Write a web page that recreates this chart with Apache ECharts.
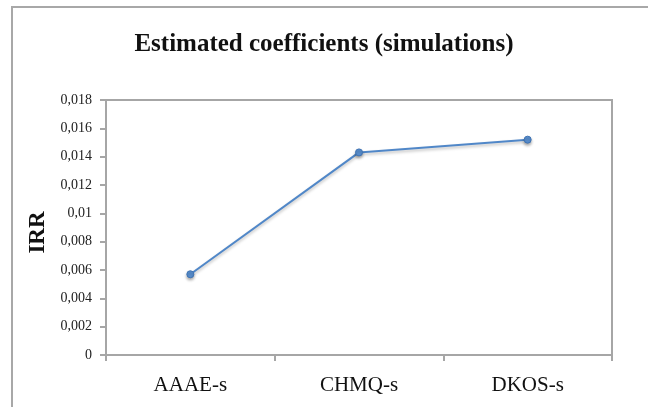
<!DOCTYPE html>
<html>
<head>
<meta charset="utf-8">
<script src="https://cdn.jsdelivr.net/npm/echarts@6/dist/echarts.min.js"></script>
<style>html,body{margin:0;padding:0;background:#fff;}#c{width:648px;height:407px;}</style>
</head>
<body>
<div id="c"></div>
<script>
var categories = ['AAAE-s', 'CHMQ-s', 'DKOS-s'];
var irrValues = [0.0057, 0.0143, 0.0152];
var titleText = 'Estimated coefficients (simulations)';
var yAxisName = 'IRR';

var chart = echarts.init(document.getElementById('c'));
var axisGray = '#a6a6a6';
chart.setOption({
  animation: false,
  backgroundColor: '#fff',
  graphic: [{
    type: 'rect', shape: {x: 12, y: 7, width: 700, height: 500},
    style: {fill: 'none', stroke: '#a8a8a8', lineWidth: 2}, silent: true, z: -1
  }],
  title: {
    text: titleText, left: 'center', top: 27,
    textStyle: {fontFamily: 'Liberation Serif', fontWeight: 'bold', fontSize: 25, color: '#111'}
  },
  grid: {left: 106, top: 100, right: 36, bottom: 52, show: true, borderColor: axisGray, borderWidth: 2},
  xAxis: {
    type: 'category', data: categories, boundaryGap: true,
    axisLine: {lineStyle: {color: axisGray, width: 2}},
    axisTick: {show: true, inside: false, length: 6, lineStyle: {color: axisGray, width: 2}},
    axisLabel: {fontFamily: 'Liberation Serif', fontSize: 21, color: '#111', margin: 20}
  },
  yAxis: {
    type: 'value', min: 0, max: 0.018, interval: 0.002,
    name: yAxisName, nameLocation: 'middle', nameGap: 56, nameRotate: 90,
    nameTextStyle: {fontFamily: 'Liberation Serif', fontWeight: 'bold', fontSize: 23, color: '#111', padding: [0, 10, 0, 0]},
    axisLine: {show: true, lineStyle: {color: axisGray, width: 2}},
    axisTick: {show: true, length: 6, lineStyle: {color: axisGray, width: 2}},
    splitLine: {show: false},
    axisLabel: {
      fontFamily: 'Liberation Serif', fontSize: 14, color: '#222', margin: 14,
      formatter: function (v) { return String(parseFloat(v.toFixed(4))).replace('.', ','); }
    }
  },
  series: [{
    type: 'line', data: irrValues,
    symbol: 'circle', symbolSize: 7,
    lineStyle: {color: '#5087c8', width: 2, shadowColor: 'rgba(0,0,0,0.25)', shadowBlur: 3, shadowOffsetY: 2},
    itemStyle: {color: '#5a90d0', borderColor: '#3f74b5', borderWidth: 1, shadowColor: 'rgba(0,0,0,0.3)', shadowBlur: 3, shadowOffsetY: 2}
  }]
});
</script>
</body>
</html>
